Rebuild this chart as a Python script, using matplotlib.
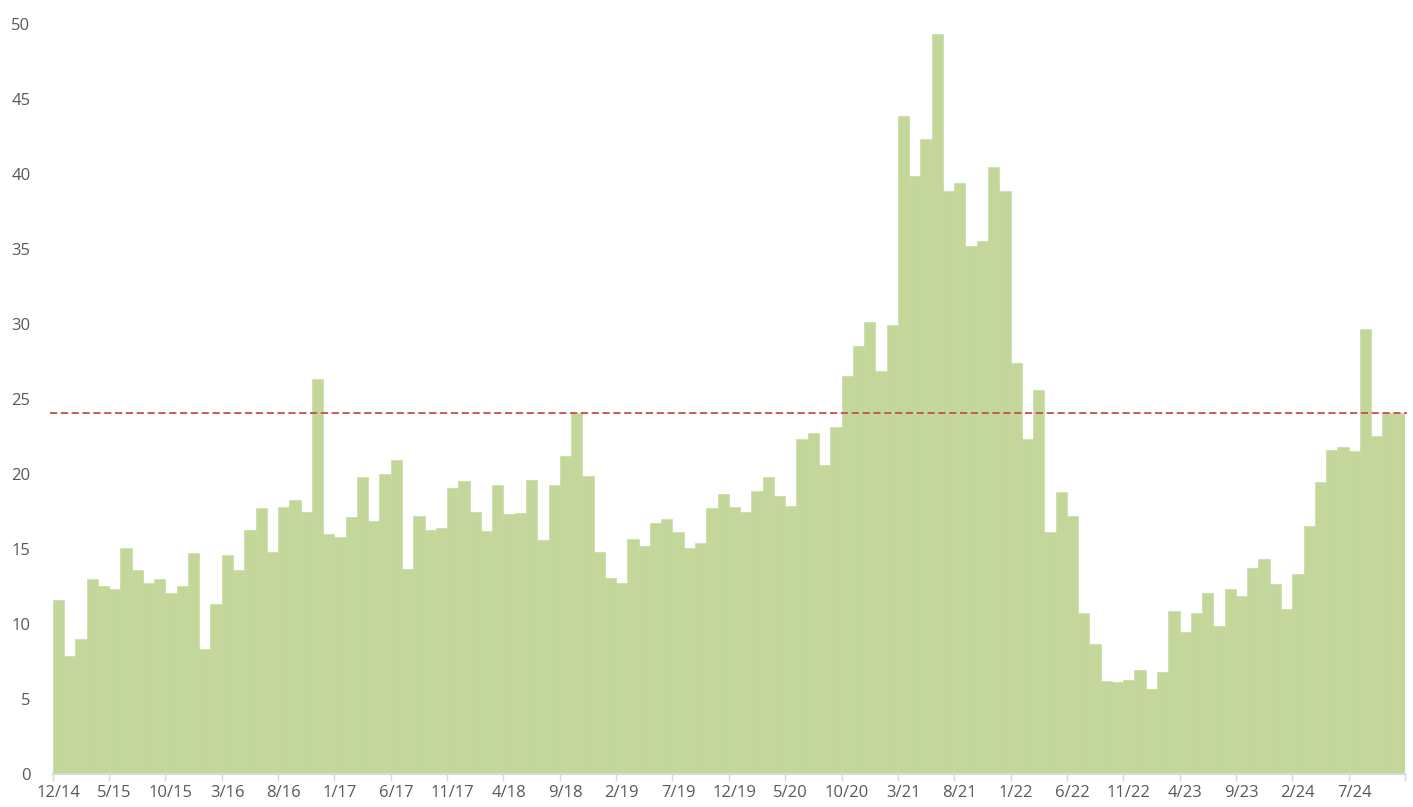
import matplotlib
matplotlib.use("Agg")
import matplotlib.pyplot as plt
import pandas as pd

# Monthly categories 12/14 .. 11/24
months = pd.date_range("2014-12-01", periods=120, freq="MS")
labels = [f"{m.month}/{m.year % 100:02d}" for m in months]

values = [
    11.62, 7.89, 9.0, 13.0, 12.55, 12.38, 15.09, 13.62, 12.75, 13.02,
    12.09, 12.55, 14.73, 8.35, 11.35, 14.64, 13.62, 16.27, 17.73, 14.82,
    17.8, 18.31, 17.49, 26.38, 16.04, 15.8, 17.13, 19.84, 16.89, 20.0,
    20.93, 13.69, 17.24, 16.27, 16.42, 19.09, 19.53, 17.49, 16.22, 19.31,
    17.36, 17.42, 19.62, 15.64, 19.29, 21.24, 24.09, 19.91, 14.84, 13.09,
    12.73, 15.67, 15.22, 16.77, 17.04, 16.15, 15.1, 15.42, 17.75, 18.68,
    17.79, 17.48, 18.92, 19.81, 18.58, 17.89, 22.35, 22.73, 20.64, 23.17,
    26.57, 28.56, 30.17, 26.91, 29.93, 43.9, 39.89, 42.32, 49.35, 38.86,
    39.44, 35.22, 35.56, 40.5, 38.89, 27.39, 22.35, 25.61, 16.13, 18.82,
    17.22, 10.75, 8.67, 6.22, 6.18, 6.29, 6.93, 5.69, 6.84, 10.89,
    9.49, 10.78, 12.09, 9.91, 12.35, 11.91, 13.78, 14.35, 12.71, 11.02,
    13.35, 16.55, 19.49, 21.6, 21.82, 21.55, 29.69, 22.55, 24.09, 24.09,
]
reference_level = 24.09
yticks = [0, 5, 10, 15, 20, 25, 30, 35, 40, 45, 50]

plt.rcParams["font.family"] = ["Open Sans", "DejaVu Sans"]

fig = plt.figure(figsize=(14.13, 8.07), dpi=100)
ax = fig.add_axes([0.0373, 0.0405, 0.9570, 0.9294])

x = list(range(len(values)))
ax.bar(x, values, width=1.0, color="#C4D79B", edgecolor="#C4D79B", linewidth=0.4)

ax.plot([-0.75, len(values) - 0.3], [reference_level, reference_level],
        color="#C0504D", linestyle=(0, (4, 2)), linewidth=1.3, clip_on=False, zorder=3)

ax.set_xlim(-0.5, len(values) - 0.5)
ax.set_ylim(0, 50)

# major ticks at category boundaries every 5 months (no labels)
ax.set_xticks([i - 0.5 for i in range(0, len(values) + 1, 5)])
ax.set_xticklabels([])
ax.tick_params(axis="x", which="major", length=5, width=1, color="#D9D9D9")
# labels centred under categories
ax.set_xticks(list(range(0, len(values), 5)), minor=True)
ax.set_xticklabels([labels[i] for i in range(0, len(values), 5)], minor=True)
ax.tick_params(axis="x", which="minor", length=0, pad=8, labelsize=12, labelcolor="#595959")

ax.set_yticks(yticks)
ax.set_yticklabels([str(v) for v in yticks])
ax.tick_params(axis="y", length=0, pad=16, labelsize=12, labelcolor="#595959")

for s in ["top", "right", "left"]:
    ax.spines[s].set_visible(False)
ax.spines["bottom"].set_color("#D9D9D9")
ax.spines["bottom"].set_linewidth(1.5)
ax.spines["bottom"].set_zorder(4)

fig.savefig("out.png", dpi=100)
